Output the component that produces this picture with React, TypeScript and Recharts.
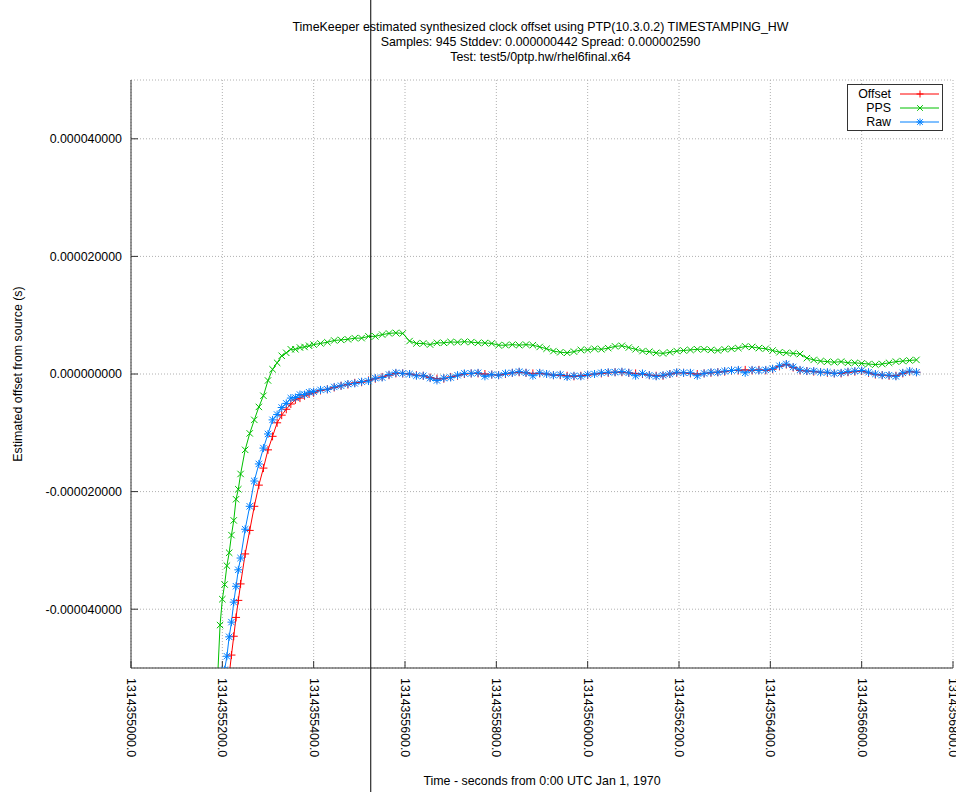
import { LineChart, Line, XAxis, YAxis, CartesianGrid, Legend, ReferenceLine, Label } from 'recharts'

// sample times (seconds since epoch)
const times = [
  1314355190, 1314355195, 1314355200, 1314355205, 1314355210, 1314355215, 1314355220, 1314355225, 1314355230, 1314355235,
  1314355240, 1314355250, 1314355260, 1314355270, 1314355280, 1314355290, 1314355300, 1314355310, 1314355320, 1314355330,
  1314355340, 1314355350, 1314355360, 1314355370, 1314355380, 1314355390, 1314355400,
  1314355415, 1314355430, 1314355445, 1314355460, 1314355475, 1314355490, 1314355505, 1314355520, 1314355535, 1314355550,
  1314355565, 1314355580, 1314355595, 1314355610, 1314355625, 1314355640, 1314355655, 1314355670, 1314355685, 1314355700,
  1314355715, 1314355730, 1314355745, 1314355760, 1314355775, 1314355790, 1314355805, 1314355820, 1314355835, 1314355850,
  1314355865, 1314355880, 1314355895, 1314355910, 1314355925, 1314355940, 1314355955, 1314355970, 1314355985, 1314356000,
  1314356015, 1314356030, 1314356045, 1314356060, 1314356075, 1314356090, 1314356105, 1314356120, 1314356135, 1314356150,
  1314356165, 1314356180, 1314356195, 1314356210, 1314356225, 1314356240, 1314356255, 1314356270, 1314356285, 1314356300,
  1314356315, 1314356330, 1314356345, 1314356360, 1314356375, 1314356390, 1314356405, 1314356420, 1314356435, 1314356450,
  1314356465, 1314356480, 1314356495, 1314356510, 1314356525, 1314356540, 1314356555, 1314356570, 1314356585, 1314356600,
  1314356615, 1314356630, 1314356645, 1314356660, 1314356675, 1314356690, 1314356705, 1314356720,
]

// offsets in microseconds
const offsetUs = [
  -67.6, -64.3, -61.1, -57.9, -54.5, -51.2, -47.8, -44.6, -41.4, -38.5,
  -35.7, -30.6, -26.6, -22.5, -18.9, -16.0, -12.9, -10.6, -8.3, -7.0,
  -6.0, -5.1, -4.4, -4.1, -3.7, -3.4, -3.2,
  -2.8, -2.6, -2.3, -2.0, -1.8, -1.5, -1.4, -1.1, -0.8, -0.5,
  -0.2, 0.1, 0.1, 0.0, -0.2, -0.3, -0.6, -0.8, -0.8, -0.5,
  -0.3, 0.0, 0.1, 0.1, 0.0, -0.1, -0.2, 0.0, 0.2, 0.3,
  0.2, 0.1, 0.1, 0.0, -0.2, -0.2, -0.3, -0.4, -0.3, -0.2,
  0.0, 0.1, 0.2, 0.3, 0.3, 0.2, 0.1, 0.0, -0.2, -0.3,
  -0.3, 0.0, 0.2, 0.2, 0.1, 0.0, 0.1, 0.2, 0.3, 0.4,
  0.6, 0.6, 0.7, 0.6, 0.7, 0.6, 0.8, 1.3, 1.6, 1.1,
  0.6, 0.5, 0.4, 0.3, 0.2, 0.1, 0.1, 0.3, 0.4, 0.5,
  0.2, -0.1, -0.2, -0.3, -0.3, 0.1, 0.4, 0.3,
]

const ppsUs = [
  -51.1, -42.7, -38.3, -35.8, -32.6, -30.4, -27.4, -24.9, -21.3, -19.6,
  -17.0, -12.9, -10.1, -7.8, -5.6, -3.7, -1.1, 0.8, 1.9, 3.1,
  3.6, 4.2, 4.2, 4.5, 4.6, 4.8, 5.0,
  5.2, 5.4, 5.7, 5.8, 5.9, 6.1, 6.1, 6.4, 6.4, 6.7,
  6.9, 7.0, 6.9, 5.6, 5.2, 5.2, 5.0, 5.3, 5.3, 5.45,
  5.4, 5.5, 5.42, 5.3, 5.28, 5.2, 4.9, 4.9, 5.0, 4.9,
  5.0, 4.9, 4.6, 4.3, 3.9, 3.7, 3.6, 3.8, 4.1, 4.1,
  4.3, 4.2, 4.4, 4.7, 4.8, 4.5, 4.2, 3.9, 3.8, 3.6,
  3.5, 3.7, 3.9, 4.0, 4.1, 4.2, 4.2, 4.1, 4.0, 4.2,
  4.3, 4.4, 4.7, 4.6, 4.4, 4.3, 4.0, 3.7, 3.6, 3.5,
  3.4, 2.7, 2.4, 2.2, 2.1, 2.0, 2.1, 1.9, 1.9, 1.8,
  1.7, 1.6, 1.7, 1.9, 2.1, 2.2, 2.3, 2.4,
]

const rawUs = [
  -58.6, -55.8, -53.4, -50.3, -48.0, -44.7, -42.2, -38.8, -36.1, -33.3,
  -31.3, -26.4, -22.5, -18.2, -15.3, -12.6, -10.2, -7.8, -6.9, -5.7,
  -5.0, -4.1, -4.0, -3.5, -3.5, -3.1, -3.0,
  -2.7, -2.6, -2.2, -2.0, -1.7, -1.6, -1.3, -1.2, -0.7, -0.6,
  -0.1, 0.2, 0.1, 0.0, -0.3, -0.3, -0.7, -1.1, -0.7, -0.6,
  -0.2, 0.1, 0.1, 0.2, -0.4, -0.1, -0.2, 0.1, 0.2, 0.4,
  0.2, -0.3, 0.2, 0.0, -0.2, -0.1, -0.5, -0.3, -0.4, -0.1,
  0.0, 0.2, 0.3, 0.3, 0.4, 0.2, -0.3, 0.1, -0.2, -0.4,
  -0.2, 0.0, 0.3, 0.2, 0.2, -0.3, 0.1, 0.3, 0.3, 0.5,
  0.6, 0.7, 0.2, 0.7, 0.6, 0.7, 0.9, 1.4, 1.7, 1.2,
  0.7, 0.5, 0.5, 0.3, 0.3, 0.1, 0.2, 0.4, 0.5, 0.6,
  0.3, 0.0, -0.2, -0.2, -0.4, 0.2, 0.5, 0.3,
]

const xTicks = [
  1314355000, 1314355200, 1314355400, 1314355600, 1314355800,
  1314356000, 1314356200, 1314356400, 1314356600, 1314356800,
]
const yTicks = [-40, -20, 0, 20, 40]
const cursorTime = 1314355525

const titleLines = [
  'TimeKeeper estimated synthesized clock offset using PTP(10.3.0.2) TIMESTAMPING_HW',
  'Samples: 945 Stddev: 0.000000442 Spread: 0.000002590',
  'Test: test5/0ptp.hw/rhel6final.x64',
]

const RED = '#ff0000'
const GREEN = '#00c000'
const BLUE = '#0080ff'
const FONT = '"Liberation Sans", Arial, sans-serif'
const FS = 12.4

const marks: Record<string, string> = { offset: 'plus', pps: 'cross', raw: 'star' }

const data = times.map((t, i) => ({ t, offset: offsetUs[i], pps: ppsUs[i], raw: rawUs[i] }))

function markPath(kind: string, cx: number, cy: number, r: number) {
  const plus = `M${cx - r},${cy}H${cx + r}M${cx},${cy - r}V${cy + r}`
  const c = r * 0.8
  const cross = `M${cx - c},${cy - c}L${cx + c},${cy + c}M${cx - c},${cy + c}L${cx + c},${cy - c}`
  if (kind === 'plus') return plus
  if (kind === 'cross') return cross
  return plus + cross
}

const makeDot = (kind: string, color: string) => (p: any) => {
  if (p.cx == null || p.cy == null) return <g key={p.index} />
  return <path key={p.index} d={markPath(kind, p.cx, p.cy, 4)} stroke={color} strokeWidth={1} fill="none" />
}

const XTick = (props: any) => {
  const { x, y, payload } = props
  return (
    <text x={x} y={y} transform={`rotate(90 ${x} ${y})`} textAnchor="start" dominantBaseline="central"
      fontSize={FS} fill="#000" fontFamily={FONT}>
      {Number(payload.value).toFixed(1)}
    </text>
  )
}

const renderLegend = (props: any) => {
  const items = props.payload || []
  return (
    <svg width={96} height={47} style={{ display: 'block' }}>
      <rect x={0.5} y={0.5} width={95} height={46} fill="#fff" stroke="#333" />
      {items.map((it: any, i: number) => {
        const cy = 10 + i * 14
        return (
          <g key={it.value}>
            <text x={44} y={cy} textAnchor="end" dominantBaseline="central" fontSize={FS} fontFamily={FONT} fill="#000">{it.value}</text>
            <line x1={53} x2={92} y1={cy} y2={cy} stroke={it.color} />
            <path d={markPath(marks[it.dataKey], 73, cy, 3.5)} stroke={it.color} fill="none" />
          </g>
        )
      })}
    </svg>
  )
}

export default function App() {
  return (
    <div style={{ position: 'absolute', left: 0, top: 0, width: 956, height: 792, background: '#fff', fontFamily: FONT }}>
      <div style={{ position: 'absolute', left: 0, top: 20, width: 1081, textAlign: 'center', fontSize: FS, lineHeight: '15px', color: '#000', whiteSpace: 'nowrap' }}>
        {titleLines.map((l) => <div key={l}>{l}</div>)}
      </div>
      <LineChart width={956} height={792} data={data} margin={{ top: 80, right: 3, bottom: 0, left: 0 }}>
        <CartesianGrid stroke="#b0b0b0" strokeDasharray="1 2" />
        <XAxis dataKey="t" type="number" domain={[1314355000, 1314356800]} ticks={xTicks} allowDataOverflow
          height={124} tickSize={-7} tickMargin={17} stroke="#333" tick={<XTick />} interval={0}>
          <Label content={(p: any) => (
            <text x={p.viewBox.x + p.viewBox.width / 2} y={781} textAnchor="middle" dominantBaseline="central" fontSize={FS} fontFamily={FONT} fill="#000">
              Time - seconds from 0:00 UTC Jan 1, 1970
            </text>
          )} />
        </XAxis>
        <XAxis xAxisId="top" orientation="top" type="number" domain={[1314355000, 1314356800]} ticks={xTicks}
          height={0} tickSize={-7} tick={false} stroke="#333" interval={0} />
        <YAxis type="number" domain={[-50, 50]} ticks={yTicks} allowDataOverflow width={131} tickSize={-7} tickMargin={16}
          stroke="#333" interval={0} tickFormatter={(v: number) => (v * 1e-6).toFixed(9)}
          tick={{ fontSize: FS, fill: '#000', fontFamily: FONT }}>
          <Label content={(p: any) => {
            const cy = p.viewBox.y + p.viewBox.height / 2
            return (
              <text x={18} y={cy} transform={`rotate(-90 18 ${cy})`} textAnchor="middle" dominantBaseline="central" fontSize={FS} fontFamily={FONT} fill="#000">
                Estimated offset from source (s)
              </text>
            )
          }} />
        </YAxis>
        <YAxis yAxisId="right" orientation="right" type="number" domain={[-50, 50]} ticks={yTicks} width={0}
          tickSize={-7} tick={false} stroke="#333" interval={0} />
        <Legend layout="vertical" align="center" verticalAlign="middle" content={renderLegend}
          wrapperStyle={{ left: 847, top: 84, width: 96, height: 47 }} />
        <Line name="Offset" dataKey="offset" stroke={RED} strokeWidth={1} dot={makeDot('plus', RED)} isAnimationActive={false} />
        <Line name="PPS" dataKey="pps" stroke={GREEN} strokeWidth={1} dot={makeDot('cross', GREEN)} isAnimationActive={false} />
        <Line name="Raw" dataKey="raw" stroke={BLUE} strokeWidth={1} dot={makeDot('star', BLUE)} isAnimationActive={false} />
        <ReferenceLine x={cursorTime} stroke="#000"
          shape={(p: any) => <line x1={p.x1} x2={p.x1} y1={0} y2={792} stroke="#000" strokeWidth={1} />} />
      </LineChart>
    </div>
  )
}
